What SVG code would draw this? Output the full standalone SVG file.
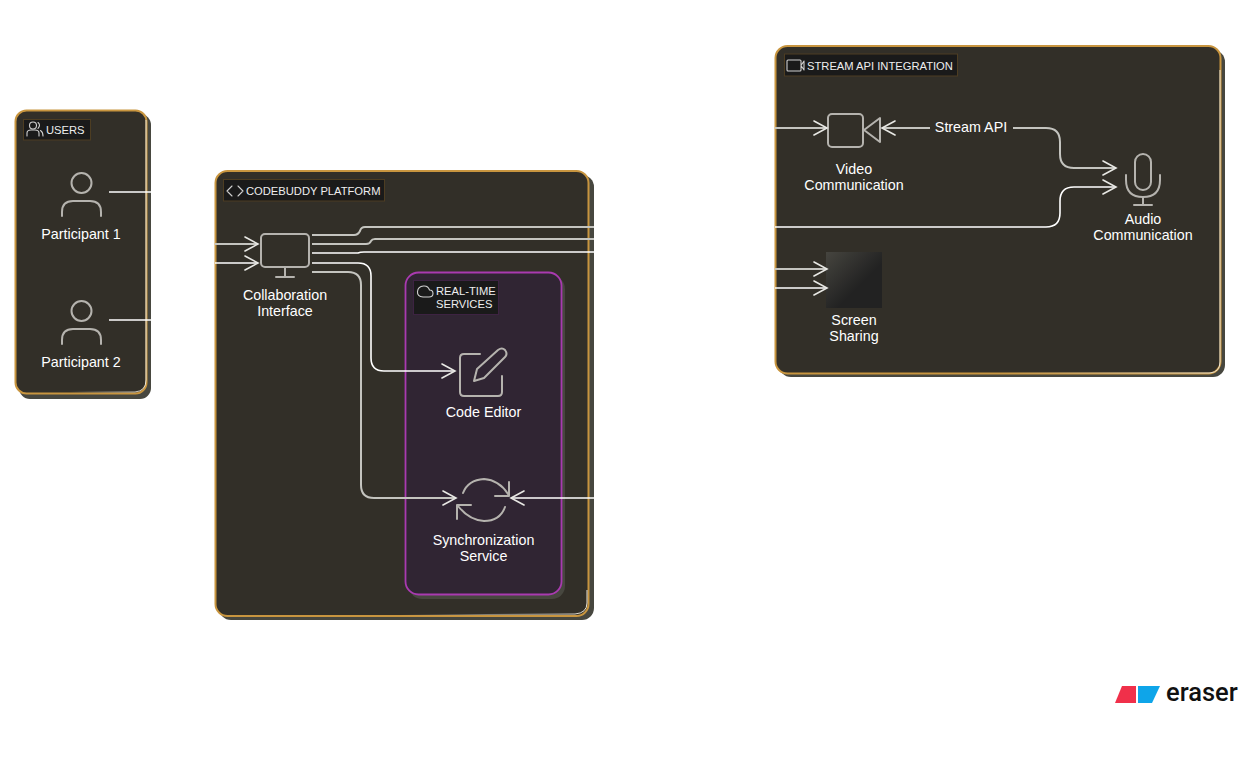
<svg xmlns="http://www.w3.org/2000/svg" width="1259" height="770" viewBox="0 0 1259 770">
<style>
text{font-family:"Liberation Sans",Arial,sans-serif;fill:#fff}
.lbl{font-size:14.300px;text-anchor:middle}
.tag{font-size:11.200px;fill:#eee}
.tagbox{fill:#1a1a1a;stroke-width:1}
.ico{fill:none;stroke:#b5b3ae;stroke-width:2;stroke-linecap:round;stroke-linejoin:round}
.tico{fill:none;stroke:#d0d0d0;stroke-width:1.1;stroke-linecap:round;stroke-linejoin:round}
.shadow{fill:#47473f}
.box{fill:#322f28;stroke:#c8953f;stroke-width:2}
.hi{fill:none;stroke:url(#fade);stroke-width:1}
.c{fill:none;stroke:#fff;stroke-width:1.6;marker-end:url(#a)}
.n{fill:none;stroke:#fff;stroke-width:1.6}
.g{stroke:#c4c4bf;stroke-width:2}
</style>
<defs>
<marker id="a" markerUnits="userSpaceOnUse" markerWidth="16" markerHeight="18" refX="14" refY="8" orient="auto"><path d="M1 1L14 8L1 15" fill="none" stroke="#e8e8e4" stroke-width="1.6" stroke-linecap="round"/></marker>
<linearGradient id="sq" x1="0" y1="0" x2="1" y2="1"><stop offset="0" stop-color="#46453f"/><stop offset=".6" stop-color="#222"/><stop offset="1" stop-color="#222"/></linearGradient>
<linearGradient id="fade" x1="0" y1="0" x2="1" y2="0"><stop offset="0" stop-color="#e8e4d8" stop-opacity="0"/><stop offset=".85" stop-color="#e8e4d8" stop-opacity=".8"/><stop offset="1" stop-color="#e8e4d8"/></linearGradient>
</defs>
<rect width="1259" height="770" fill="#fff"/>

<g id="users">
<rect class="shadow" x="19" y="114" width="132" height="285" rx="11"/>
<rect class="box" x="15.500" y="110.500" width="131" height="283" rx="11"/>
<path class="hi" d="M146 120V380Q146 391 135 392H70"/>
<rect class="tagbox" x="23.500" y="119.500" width="67" height="20.500" stroke="#4d3d22"/>
<g class="tico"><circle cx="33" cy="125.500" r="3.500"/><path d="M27 136V133Q27 130 31 130H35Q39 130 39 133V136M38 122.500Q41 125 38 128.500M40.500 130.500Q43 132 43 136"/></g>
<text class="tag" x="46" y="134">USERS</text>
</g>
<g id="participant-1">
<circle class="ico" cx="81.500" cy="183" r="10"/><path class="ico" d="M62 216V212Q62 201 73 201H90Q101 201 101 212V216"/>
<text class="lbl" x="81" y="239">Participant 1</text>
</g>
<g id="participant-2">
<circle class="ico" cx="81.500" cy="311" r="10"/><path class="ico" d="M62 344V340Q62 329 73 329H90Q101 329 101 340V344"/>
<text class="lbl" x="81" y="367">Participant 2</text>
</g>

<g id="platform">
<rect class="shadow" x="219" y="175" width="375" height="445" rx="12"/>
<rect class="box" x="215.500" y="171" width="373" height="445" rx="12"/>
<path class="hi" d="M587 590V603Q587 613 575 614L400 615"/>
<rect class="tagbox" x="223.500" y="179.500" width="161" height="21.500" stroke="#4d3d22"/>
<path class="tico" d="M232 186L227 191L232 196M238 186L243 191L238 196"/>
<text class="tag" x="246" y="195">CODEBUDDY PLATFORM</text>
</g>
<g id="realtime">
<rect x="409" y="276" width="156" height="323" rx="13" fill="#47473f"/>
<rect x="405.500" y="272.500" width="156" height="322" rx="13" fill="#302533" stroke="#a93ab0" stroke-width="1.800"/>
<rect class="tagbox" x="413.500" y="280.500" width="85" height="34" stroke="#3d2342"/>
<path class="tico" d="M423 297H429Q433 297 433 293.500Q433 290 429.500 290Q428 285.500 423.500 286Q418 286.500 417.500 291.500Q417 296.500 423 297Z"/>
<text class="tag" x="436" y="295">REAL-TIME</text>
<text class="tag" x="436" y="308">SERVICES</text>
</g>
<g id="collaboration-interface">
<rect class="ico" x="261" y="234" width="48" height="33" rx="4"/><path class="ico" d="M285 268V277M276 277H294"/>
<text class="lbl" x="285" y="300">Collaboration</text><text class="lbl" x="285" y="316">Interface</text>
</g>
<g id="code-editor">
<path class="ico" d="M480 354H464Q460 354 460 358V392Q460 396 464 396H498Q502 396 502 392V376"/>
<path class="ico" d="M474 381L477 369L498 350Q502 347 505 350Q508 354 505 357L484 378Z"/>
<text class="lbl" x="483.500" y="417">Code Editor</text>
</g>
<g id="sync-service">
<path class="ico" d="M463 493Q468 480 484 479Q499 480 508 494M509 482V496H495M505 507Q500 521 484 521Q469 520 458 506M457 519V505H471"/>
<text class="lbl" x="483.500" y="545">Synchronization</text><text class="lbl" x="483.500" y="561">Service</text>
</g>

<g id="stream-api-integration">
<rect class="shadow" x="779" y="50" width="446" height="327" rx="12"/>
<rect class="box" x="775.500" y="46" width="445" height="327.500" rx="12"/>
<path class="hi" d="M1220 70V362Q1220 372 1210 373H1000"/>
<rect class="tagbox" x="784.500" y="54" width="173" height="22" stroke="#4d3d22"/>
<path class="tico" d="M788 60H800Q801 60 801 61V70Q801 71 800 71H788Q787 71 787 70V61Q787 60 788 60ZM801 65.500L804 61V70Z"/>
<text class="tag" x="807" y="70">STREAM API INTEGRATION</text>
</g>
<g id="video-communication">
<rect class="ico" x="828" y="114" width="35" height="33" rx="4"/><path class="ico" d="M864 130L880 118V142Z"/>
<text class="lbl" x="854" y="174">Video</text><text class="lbl" x="854" y="190">Communication</text>
</g>
<g id="audio-communication">
<rect class="ico" x="1135" y="154" width="16" height="36" rx="8"/><path class="ico" d="M1126 175V180Q1126 197 1143 197Q1160 197 1160 180V175M1143 197V205M1134 205H1152"/>
<text class="lbl" x="1143" y="224">Audio</text><text class="lbl" x="1143" y="240">Communication</text>
</g>
<g id="screen-sharing">
<rect x="826" y="252" width="56" height="56" fill="url(#sq)"/>
<text class="lbl" x="854" y="325">Screen</text><text class="lbl" x="854" y="341">Sharing</text>
</g>

<g id="connectors">
<path class="n" d="M109 192H152"/><path class="n" d="M109 320H152"/>
<path class="c g" d="M215 244H258"/><path class="c" d="M215 263H258"/>
<path class="n g" d="M312 235H354Q358 235 360 231Q361 227 365 227H594"/>
<path class="n g" d="M312 244H366Q370 244 371 241Q372 239 375 239H594"/>
<path class="n" d="M312 253H358Q360 252 364 252H594"/>
<path class="c" d="M312 263H358Q371 263 371 276V358Q371 371 384 371H455"/>
<path class="n g" d="M312 272H348Q361 272 361 285V485Q361 498 374 498H456" style="marker-end:url(#a)"/>
<path class="c" d="M594 498H511"/>
<path class="c g" d="M775 128H827"/>
<path class="c g" d="M930 128H882"/>
<path class="c g" d="M1013 128H1046Q1060 128 1060 142V154Q1060 168 1074 168H1116"/>
<path class="c" d="M775 227H1046Q1060 227 1060 213V201Q1060 187 1074 187H1116"/>
<path class="c g" d="M775 269H827"/><path class="c" d="M775 288H827"/>
</g>
<text x="971" y="132" font-size="14.300" text-anchor="middle">Stream API</text>

<g id="eraser-logo">
<path d="M1122 686H1136V703H1115Z" fill="#f0304a"/>
<path d="M1138 686H1160L1152 703H1138Z" fill="#0ea5e9"/>
<text x="1166" y="701" style="font-family:Roboto,'Liberation Sans',sans-serif;font-size:25.500px;font-weight:500;fill:#111">eraser</text>
</g>
</svg>
